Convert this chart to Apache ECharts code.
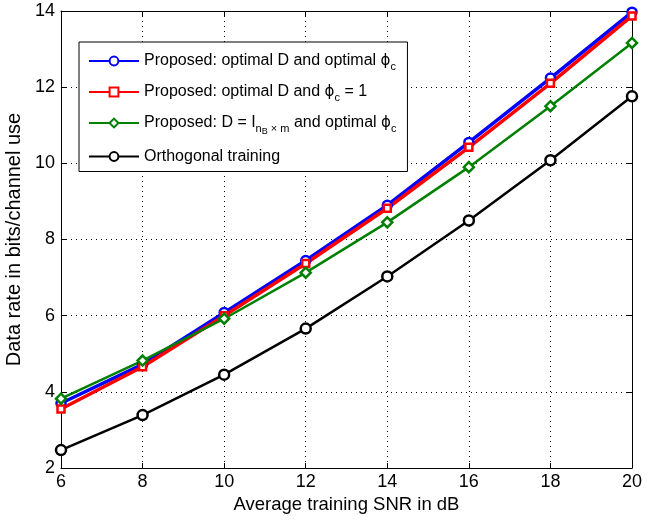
<!DOCTYPE html>
<html><head><meta charset="utf-8">
<script src="https://cdn.jsdelivr.net/npm/echarts@6/dist/echarts.min.js"></script>
<style>html,body{margin:0;padding:0;background:#fff}#c{width:647px;height:523px}</style>
</head><body><div id="c"></div>
<script>
const snr = [6, 8, 10, 12, 14, 16, 18, 20];
const optDoptPhi = [3.7, 4.72, 6.08, 7.45, 8.9, 10.55, 12.24, 13.97];
const optDphi1 = [3.55, 4.66, 6.0, 7.37, 8.82, 10.42, 12.1, 13.87];
const identDoptPhi = [3.82, 4.82, 5.92, 7.13, 8.45, 9.9, 11.5, 13.16];
const orthogonal = [2.47, 3.39, 4.45, 5.66, 7.03, 8.5, 10.08, 11.76];
const names = ['blue', 'red', 'green', 'black'];
const labels = {
  blue: '{t|Proposed: optimal D and optimal }{p|ϕ}{s|c}',
  red: '{t|Proposed: optimal D and }{p|ϕ}{s|c}{t| = 1}',
  green: '{t|Proposed: D = I}{s|n}{ss|B}{s| × m}{t| and optimal }{p|ϕ}{s|c}',
  black: '{t|Orthogonal training}'
};
const font = 'Liberation Sans, Arial, sans-serif';
const chart = echarts.init(document.getElementById('c'));
function mk(name, data, color, symbol, size, width) {
  return {
    name, type: 'line', data: snr.map((x, i) => [x, data[i]]),
    symbol, symbolSize: size, showSymbol: true,
    lineStyle: { color, width },
    itemStyle: { color: '#fff', borderColor: color, borderWidth: 2.5 },
    emphasis: { disabled: true }, animation: false
  };
}
chart.setOption({
  backgroundColor: '#fff',
  animation: false,
  grid: { left: 61, right: 15, top: 11, bottom: 55, show: false, outerBoundsMode: 'none', containLabel: false },
  legend: {
    orient: 'vertical', left: 79, top: 42,
    padding: [11, 11, 7, 9], itemGap: 12,
    itemWidth: 50, itemHeight: 11,
    backgroundColor: '#fff', borderColor: '#000', borderWidth: 1,
    data: names,
    formatter: n => labels[n],
    textStyle: {
      fontFamily: font, fontSize: 16, color: '#000',
      rich: {
        t: { fontFamily: font, fontSize: 16, color: '#000' },
        p: { fontFamily: 'DejaVu Sans, sans-serif', fontSize: 15, color: '#000' },
        s: { fontFamily: font, fontSize: 11, color: '#000', padding: [11, 0, 0, 0] },
        ss: { fontFamily: font, fontSize: 9, color: '#000', padding: [18, 0, 0, 0] }
      }
    }
  },
  xAxis: [{
    type: 'value', min: 6, max: 20, interval: 2,
    name: 'Average training SNR in dB', nameLocation: 'middle', nameGap: 25,
    nameTextStyle: { fontFamily: font, fontSize: 18.5, color: '#000' },
    axisLine: { lineStyle: { color: '#000', width: 1 } },
    axisTick: { inside: true, length: 5, lineStyle: { color: '#000' } },
    axisLabel: { fontFamily: font, fontSize: 18, color: '#000', margin: 5 },
    splitLine: { show: true, lineStyle: { color: '#000', type: [1, 4], width: 1 } }
  }, {
    type: 'value', min: 6, max: 20, interval: 2, position: 'top',
    axisLine: { lineStyle: { color: '#000' } },
    axisTick: { inside: true, length: 5, lineStyle: { color: '#000' } },
    axisLabel: { show: false }, splitLine: { show: false }
  }],
  yAxis: [{
    type: 'value', min: 2, max: 14, interval: 2,
    name: 'Data rate in bits/channel use', nameLocation: 'middle', nameGap: 31,
    nameTextStyle: { fontFamily: font, fontSize: 20, color: '#000' },
    axisLine: { show: true, lineStyle: { color: '#000', width: 1 } },
    axisTick: { show: true, inside: true, length: 5, lineStyle: { color: '#000' } },
    axisLabel: { fontFamily: font, fontSize: 18, color: '#000', margin: 6 },
    splitLine: { show: true, lineStyle: { color: '#000', type: [1, 4], width: 1 } }
  }, {
    type: 'value', min: 2, max: 14, interval: 2, position: 'right',
    axisLine: { show: true, lineStyle: { color: '#000' } },
    axisTick: { show: true, inside: true, length: 5, lineStyle: { color: '#000' } },
    axisLabel: { show: false }, splitLine: { show: false }
  }],
  series: [
    mk('blue', optDoptPhi, '#0000ff', 'circle', 9, 3.5),
    mk('red', optDphi1, '#ff0000', 'rect', 7, 3.5),
    mk('green', identDoptPhi, '#008000', 'diamond', 10, 2.5),
    mk('black', orthogonal, '#000000', 'circle', 10, 2.5)
  ]
});
</script></body></html>
